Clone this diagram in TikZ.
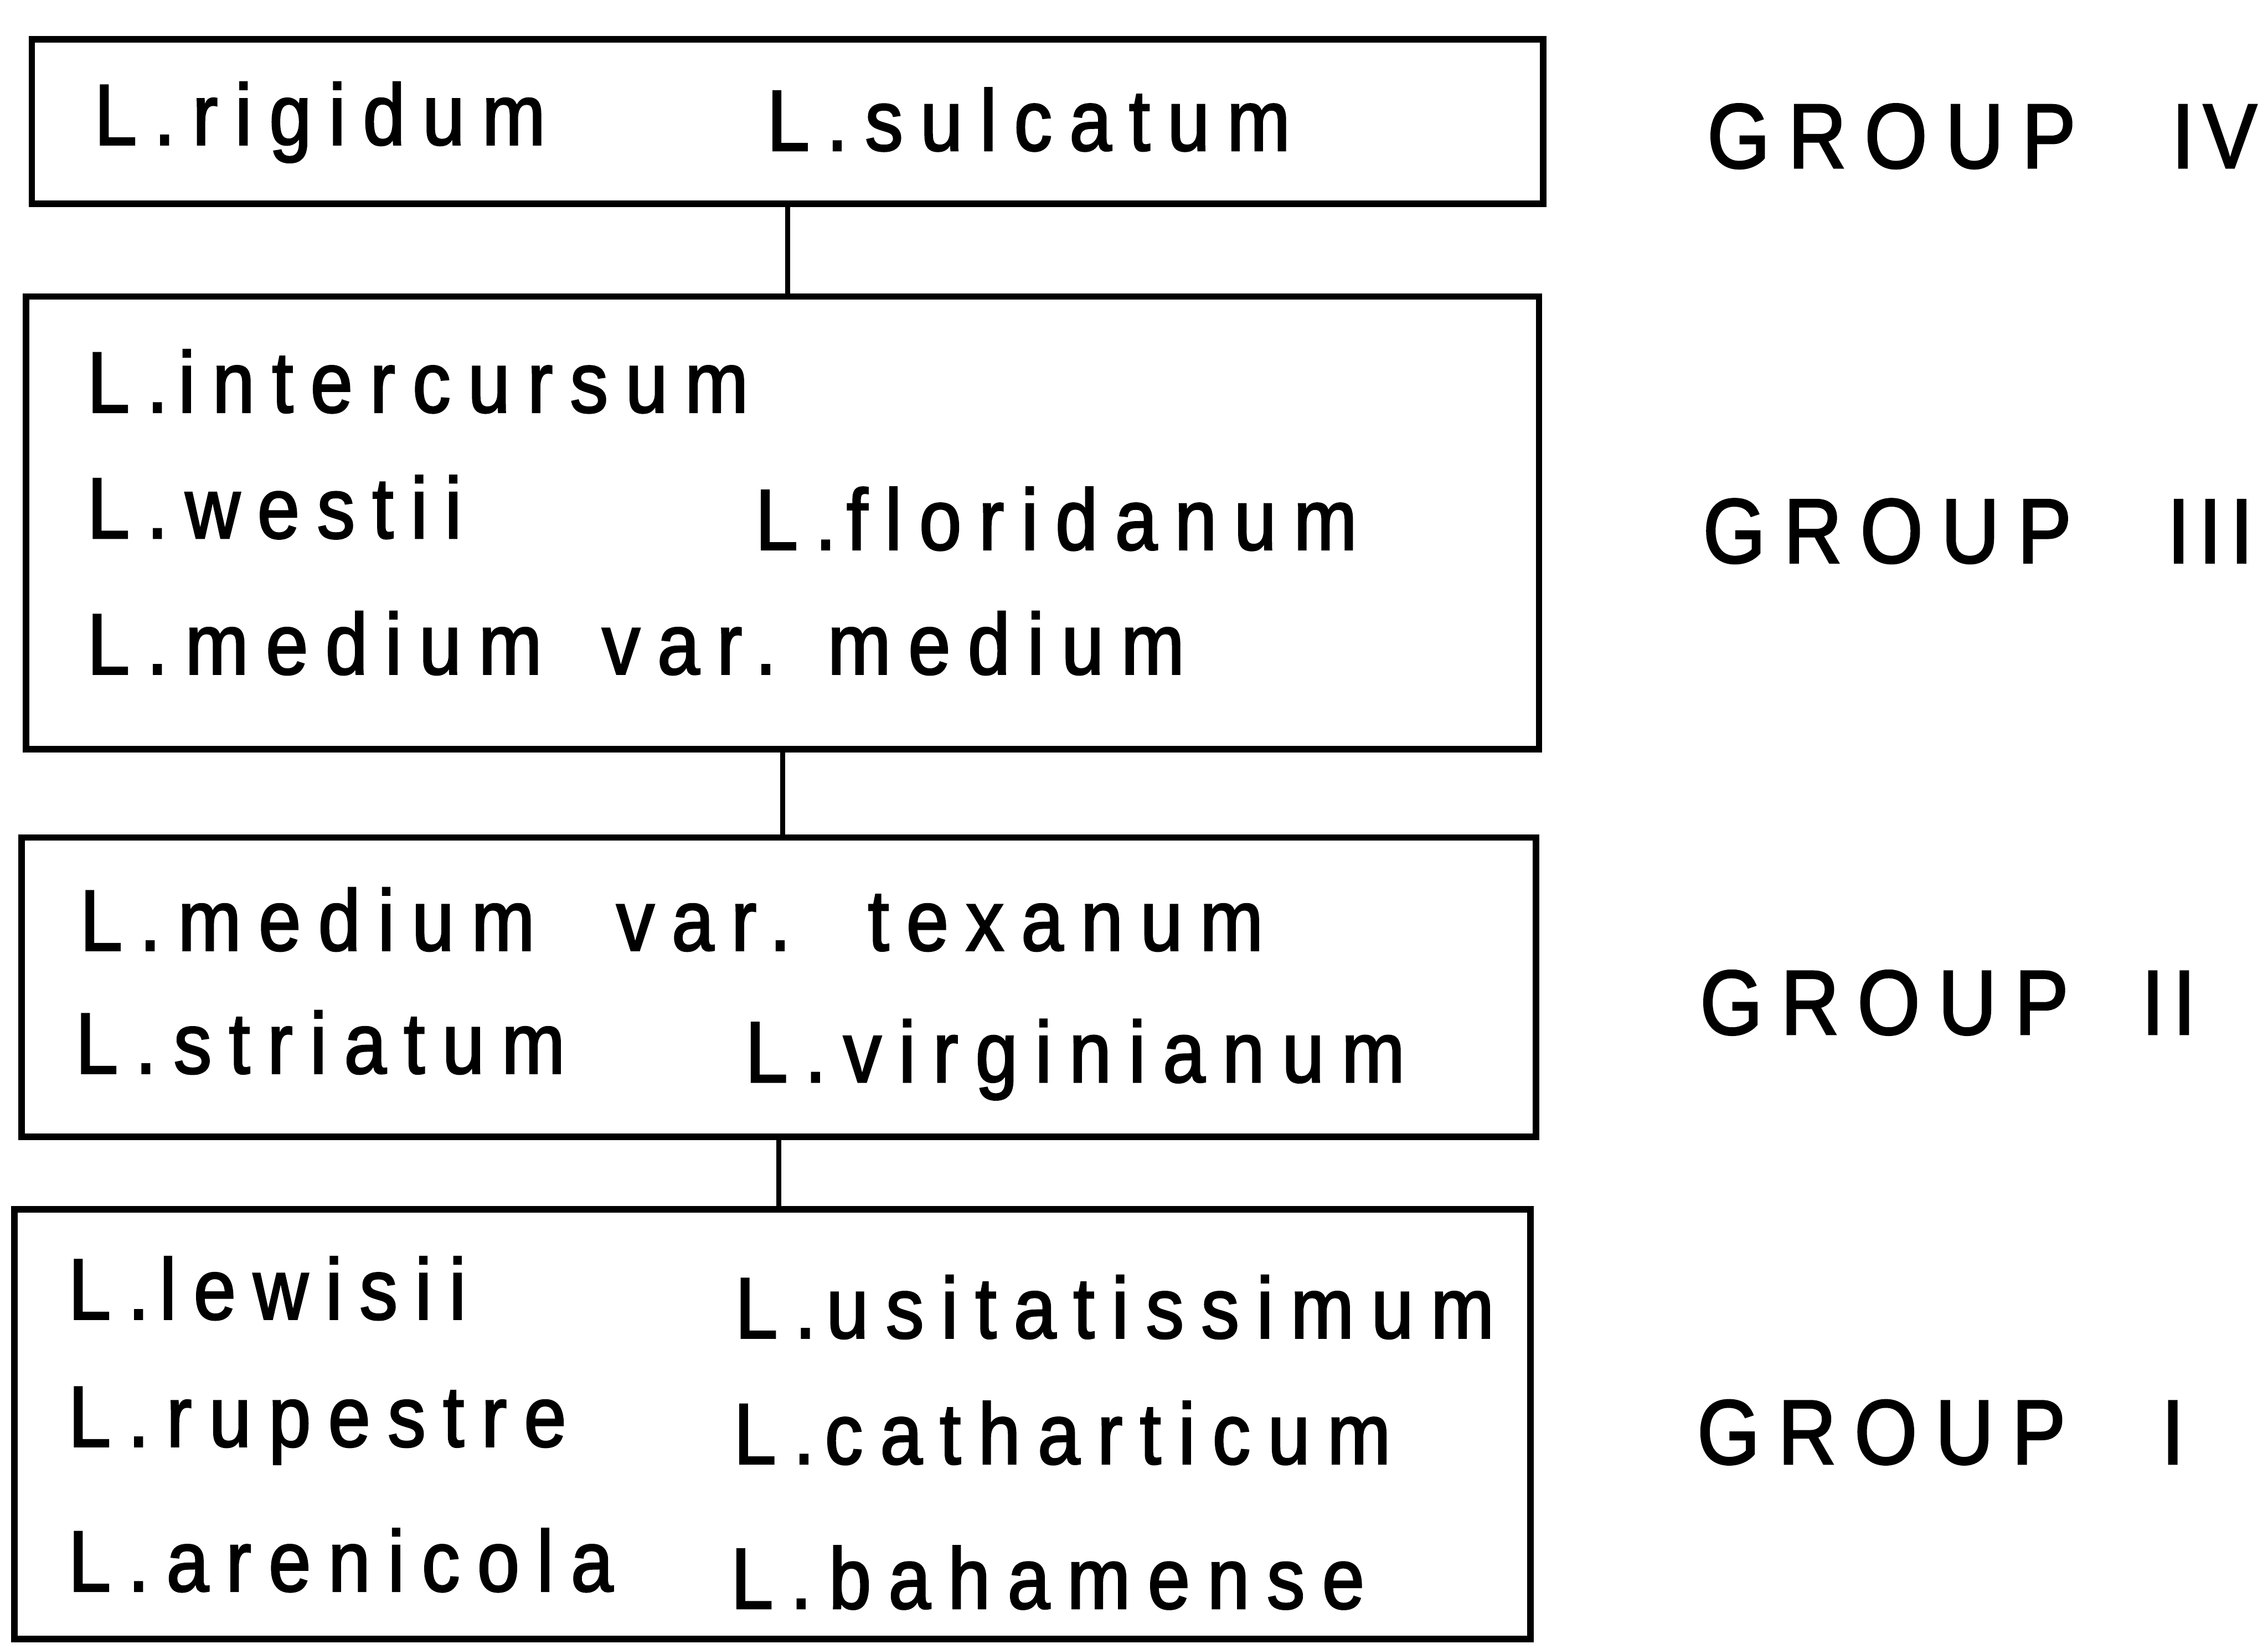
\documentclass[tikz,border=0pt]{standalone}
\usepackage{fontspec}
\usetikzlibrary{fit}
\newfontfamily\lettering{Liberation Sans}[FakeStretch=0.88, LetterSpace=20, FakeBold=2]
\newcommand\grpnum[1]{{\addfontfeature{LetterSpace=10}#1}}
\tikzset{
  grpbox/.style={draw, line width=2.6pt, inner sep=0pt},
  taxon/.style={anchor=base west, inner sep=0pt, font=\lettering\fontsize{34}{40}\selectfont},
  grplabel/.style={anchor=base west, inner sep=0pt, font=\lettering\fontsize{36}{40}\selectfont},
  link/.style={line width=1.9pt},
}
\begin{document}
\begin{tikzpicture}[x=0.02cm, y=-0.02cm]
\useasboundingbox (0,0) rectangle (1568,1140);

% the four boxes
\node[grpbox, fit={(22,27) (1067,141)}] (iv) {};
\node[grpbox, fit={(18,205) (1064,518)}] (iii) {};
\node[grpbox, fit={(15,579) (1062,786)}] (ii) {};
\node[grpbox, fit={(10,836) (1058,1133)}] (i) {};

% group IV
\node[taxon] (rigid) at (65,100) {L.rigidum};
\node[taxon] (sulc) at (530,104) {L.sulcatum};
\node[grplabel] (g4) at (1180,116) {GROUP\hspace{1.05em}\grpnum{IV}};

% group III
\node[taxon] (inter) at (60,285) {L.\hspace{0.12em}intercursum};
\node[taxon] (west) at (60,372) {L.westii};
\node[taxon] (flor) at (522,380) {L.\hspace{0.12em}floridanum};
\node[taxon] (medm) at (60,466) {L.medium\hspace{0.25em} var. medium};
\node[grplabel] (g3) at (1177,389) {GROUP\hspace{1.05em}\grpnum{III}};

% group II
\node[taxon] (medt) at (55,657) {L.medium\hspace{0.5em} var.\hspace{0.3em} texanum};
\node[taxon] (stri) at (52,742) {L.striatum};
\node[taxon] (virg) at (515,748) {L.virginianum};
\node[grplabel] (g2) at (1175,715) {GROUP\hspace{0.8em}\grpnum{II}};

% group I
\node[taxon] (lew) at (47,912) {L.\hspace{0.12em}lewisii};
\node[taxon] (rup) at (47,1000) {L.rupestre};
\node[taxon] (aren) at (47,1100) {L.arenicola};
\node[taxon] (usit) at (508,925) {L.\hspace{0.12em}usitatissimum};
\node[taxon] (cath) at (507,1012) {L.\hspace{0.12em}catharticum};
\node[taxon] (baha) at (505,1112) {L.bahamense};
\node[grplabel] (g1) at (1173,1012) {GROUP\hspace{1.05em}\grpnum{I}};

% links between groups
\draw[link] (iv.south) -- (iv.south |- iii.north);
\draw[link] (iii.south) -- (iii.south |- ii.north);
\draw[link] (ii.south) -- (ii.south |- i.north);

\end{tikzpicture}
\end{document}
